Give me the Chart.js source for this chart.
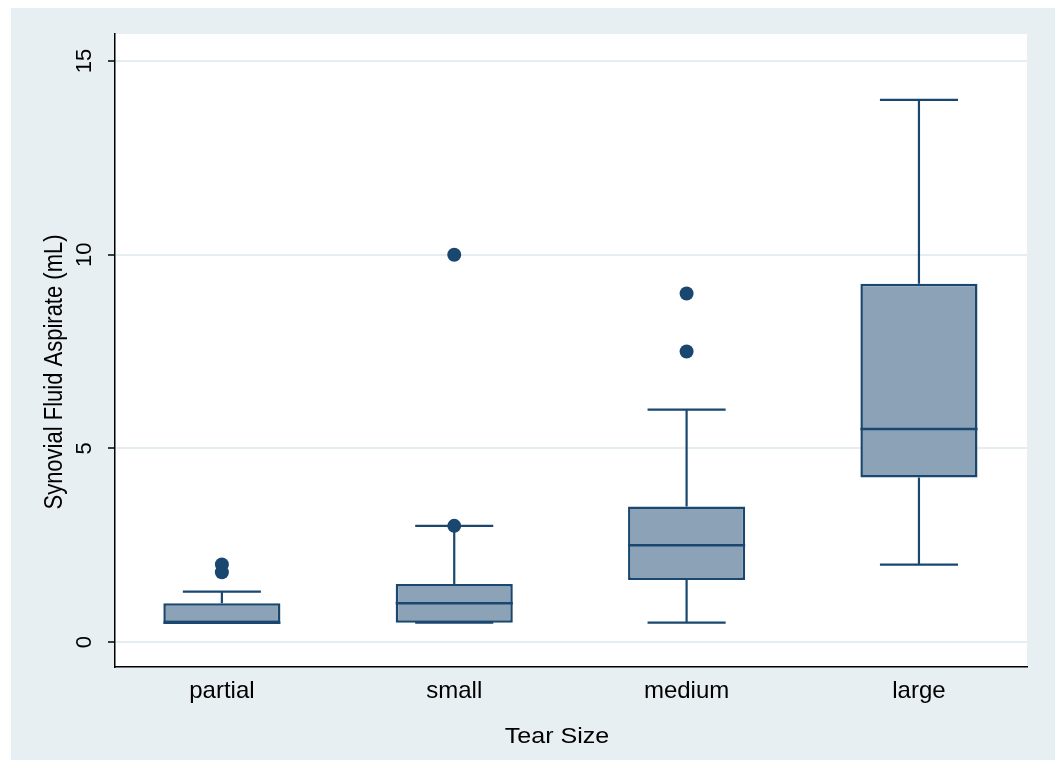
<!DOCTYPE html>
<html>
<head>
<meta charset="utf-8">
<script src="https://cdn.jsdelivr.net/npm/chart.js@4/dist/chart.umd.min.js"></script>
<style>
  html, body { margin: 0; padding: 0; background: #ffffff; }
  #wrap { width: 1059px; height: 760px; }
</style>
</head>
<body>
<div id="wrap"><canvas id="c" width="1059" height="760"></canvas></div>
<script>
// ---- data ----
const CATEGORIES = ['partial', 'small', 'medium', 'large'];
const POSITIONS = [1, 2, 3, 4];
const Q1 = [0.5, 0.5, 1.6, 4.25];
const MEDIAN = [0.5, 1.0, 2.5, 5.5];
const Q3 = [1.0, 1.5, 3.5, 9.25];
const WHISKER_LOW = [0.5, 0.5, 0.5, 2.0];
const WHISKER_HIGH = [1.3, 3.0, 6.0, 14.0];
const OUTLIER_POS = [1, 1, 2, 2, 3, 3];
const OUTLIER_VAL = [1.8, 2.0, 3.0, 10.0, 7.5, 9.0];
const Y_TICKS = [0, 5, 10, 15];
const X_TITLE = 'Tear Size';
const Y_TITLE = 'Synovial Fluid Aspirate (mL)';

// ---- style ----
const NAVY = '#1a476f';
const BOX_FILL = '#8ca3b7';
const BG = '#e8eff2';
const FONT = '"Liberation Sans", Arial, Helvetica, sans-serif';
const FSIZE = 22;
const XTICK_SIZE = 24;
const HSTRETCH = 1.14;

const backgroundPlugin = {
  id: 'stataBackground',
  beforeDraw(chart) {
    const ctx = chart.ctx, a = chart.chartArea;
    ctx.save();
    ctx.fillStyle = '#ffffff';
    ctx.fillRect(0, 0, chart.width, chart.height);
    ctx.fillStyle = BG;
    ctx.fillRect(11, 8, 1044, 752);
    ctx.fillStyle = '#ffffff';
    ctx.fillRect(a.left, a.top, a.right - a.left, a.bottom - a.top);
    ctx.restore();
  }
};

const boxPlugin = {
  id: 'boxWhiskers',
  afterDatasetsDraw(chart) {
    const ctx = chart.ctx;
    const xs = chart.scales.x, ys = chart.scales.y;
    const meta = chart.getDatasetMeta(0);
    ctx.save();
    ctx.strokeStyle = NAVY;
    ctx.lineCap = 'butt';
    POSITIONS.forEach((p, i) => {
      const bar = meta.data[i];
      const cx = xs.getPixelForValue(p);
      const w = bar.width;
      const capHalf = w / 3;
      const yLo = ys.getPixelForValue(WHISKER_LOW[i]);
      const yHi = ys.getPixelForValue(WHISKER_HIGH[i]);
      const yQ1 = ys.getPixelForValue(Q1[i]);
      const yQ3 = ys.getPixelForValue(Q3[i]);
      const yMed = ys.getPixelForValue(MEDIAN[i]);
      ctx.lineWidth = 2.2;
      ctx.beginPath();
      if (yHi < yQ3) { ctx.moveTo(cx, yQ3); ctx.lineTo(cx, yHi); }
      if (yLo > yQ1) { ctx.moveTo(cx, yQ1); ctx.lineTo(cx, yLo); }
      ctx.moveTo(cx - capHalf, yHi); ctx.lineTo(cx + capHalf, yHi);
      ctx.moveTo(cx - capHalf, yLo); ctx.lineTo(cx + capHalf, yLo);
      ctx.stroke();
      ctx.lineWidth = 2.5;
      ctx.beginPath();
      ctx.moveTo(cx - w / 2, yMed); ctx.lineTo(cx + w / 2, yMed);
      ctx.stroke();
    });
    ctx.restore();
  }
};

const titlesPlugin = {
  id: 'axisTitles',
  afterDraw(chart) {
    const ctx = chart.ctx;
    ctx.save();
    ctx.fillStyle = '#000000';
    ctx.font = FSIZE + 'px ' + FONT;
    ctx.textAlign = 'center';
    ctx.textBaseline = 'middle';
    ctx.save();
    ctx.translate(557, 737);
    ctx.scale(HSTRETCH, 1);
    ctx.fillText(X_TITLE, 0, 0);
    ctx.restore();
    ctx.save();
    ctx.translate(55, 372);
    ctx.scale(HSTRETCH, 1);
    ctx.rotate(-Math.PI / 2);
    ctx.fillText(Y_TITLE, 0, 0);
    ctx.restore();
    ctx.restore();
  }
};

const boxData = POSITIONS.map((p, i) => ({ x: p, y: [Q1[i], Q3[i]] }));
const outlierData = OUTLIER_POS.map((p, i) => ({ x: p, y: OUTLIER_VAL[i] }));

new Chart(document.getElementById('c'), {
  type: 'bar',
  data: {
    datasets: [
      {
        type: 'bar',
        data: boxData,
        backgroundColor: BOX_FILL,
        borderColor: NAVY,
        borderWidth: 2.5,
        borderSkipped: false,
        categoryPercentage: 1.0,
        barPercentage: 0.504,
        order: 2
      },
      {
        type: 'scatter',
        data: outlierData,
        backgroundColor: NAVY,
        borderColor: NAVY,
        pointRadius: 7,
        pointBorderWidth: 0,
        order: 1
      }
    ]
  },
  options: {
    responsive: false,
    devicePixelRatio: 1,
    animation: false,
    events: [],
    layout: { padding: { left: 0, top: 34, right: 32, bottom: 0 } },
    plugins: { legend: { display: false }, tooltip: { enabled: false } },
    scales: {
      x: {
        type: 'linear',
        min: 0.54,
        max: 4.465,
        offset: false,
        afterBuildTicks: (s) => { s.ticks = POSITIONS.map(v => ({ value: v })); },
        afterFit: (s) => { s.height = 93; },
        grid: { display: false, drawTicks: false, offset: false },
        border: { display: true, color: '#000000', width: 1.5 },
        ticks: {
          autoSkip: false,
          minRotation: 0, maxRotation: 0,
          padding: 10,
          color: '#000000',
          font: { family: FONT, size: XTICK_SIZE },
          callback: (v) => { const i = POSITIONS.indexOf(v); return i >= 0 ? CATEGORIES[i] : ''; }
        },
        title: { display: false }
      },
      y: {
        type: 'linear',
        min: -0.645,
        max: 15.7,
        afterBuildTicks: (s) => { s.ticks = Y_TICKS.map(v => ({ value: v })); },
        afterFit: (s) => { s.width = 115; },
        grid: { color: '#e4edf0', lineWidth: 2, tickColor: '#000000', tickWidth: 1.5, tickLength: 7 },
        border: { display: true, color: '#000000', width: 1.5 },
        ticks: {
          autoSkip: false,
          minRotation: 90, maxRotation: 90,
          crossAlign: 'center',
          padding: 11,
          color: '#000000',
          font: { family: FONT, size: FSIZE }
        },
        title: { display: false }
      }
    }
  },
  plugins: [backgroundPlugin, boxPlugin, titlesPlugin]
});
</script>
</body>
</html>
